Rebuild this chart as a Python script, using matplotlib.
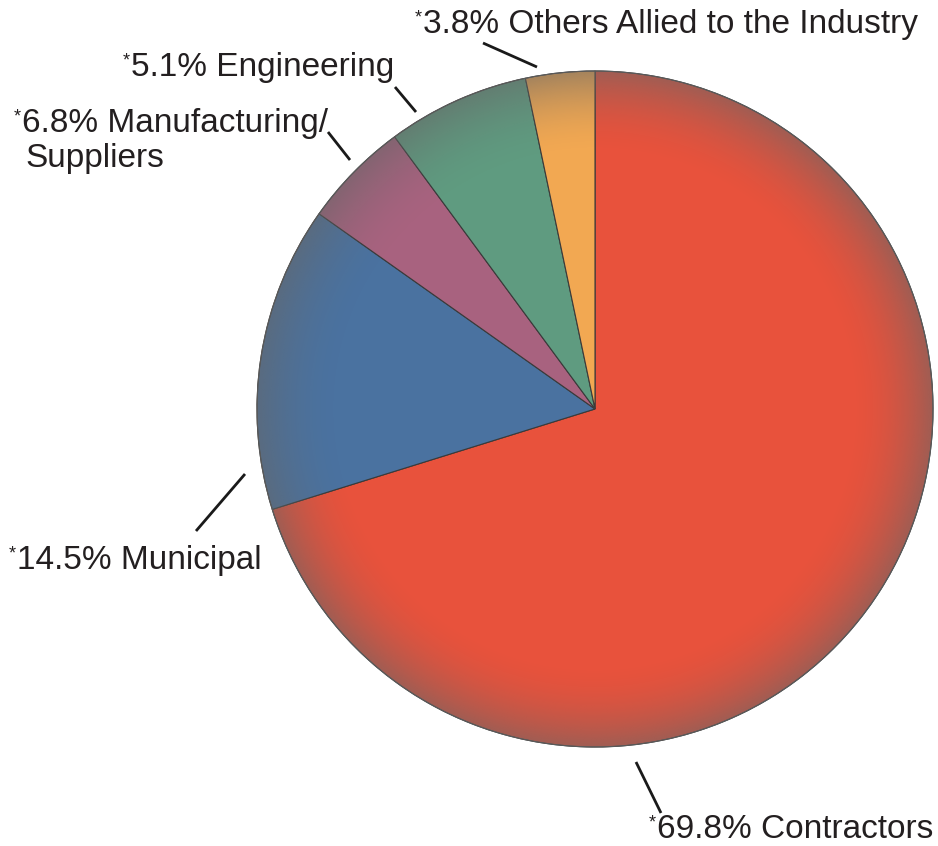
import numpy as np
import matplotlib
matplotlib.use("Agg")
import matplotlib.pyplot as plt
from matplotlib.patches import Circle

# ---- data (clockwise from 12 o'clock) ----
categories = ["Contractors", "Municipal", "Manufacturing/Suppliers", "Engineering",
              "Others Allied to the Industry"]
slice_sizes = [70.2, 14.6, 5.1, 6.8, 3.3]          # angular share as drawn
label_texts = ["69.8% Contractors", "14.5% Municipal", "6.8% Manufacturing/\nSuppliers",
               "5.1% Engineering", "3.8% Others Allied to the Industry"]
colors = ["#E8523C", "#4A72A0", "#A8627F", "#5F9B80", "#F2A852"]

W, H = 938, 846
fig = plt.figure(figsize=(W / 100, H / 100), dpi=100)
ax = fig.add_axes([0, 0, 1, 1])

cx, cy, R = 595, 409, 338

wedges, _ = ax.pie(slice_sizes, colors=colors, startangle=-90, counterclock=True,
                   center=(cx, cy), radius=R,
                   wedgeprops=dict(edgecolor="#3a3a3a", linewidth=0.8))

# rim shading (radial vignette)
n = 600
yy, xx = np.mgrid[-1:1:n * 1j, -1:1:n * 1j]
rr = np.sqrt(xx ** 2 + yy ** 2)
t = np.clip((rr - 0.76) / 0.24, 0, 1)
alpha = 0.55 * t ** 1.8
img = np.zeros((n, n, 4))
img[..., 0] = 0.40
img[..., 1] = 0.40
img[..., 2] = 0.40
img[..., 3] = alpha
clip = Circle((cx, cy), R, transform=ax.transData, facecolor="none", edgecolor="none")
ax.add_patch(clip)
im = ax.imshow(img, extent=(cx - R, cx + R, cy + R, cy - R), interpolation="bilinear",
               zorder=3)
im.set_clip_path(clip)
ax.add_patch(Circle((cx, cy), R, facecolor="none", edgecolor="#5a5a5a", linewidth=0.8,
                    zorder=4))

# ---- labels ----
font = "Liberation Sans"
tcol = "#231F20"
fs = 24

# (x of first digit, baseline y, leader line endpoints)
label_layout = [
    (657, 838, ((636, 762), (661, 813))),   # Contractors
    (17, 569, ((196, 531), (245, 474))),    # Municipal
    (22, 132, ((328, 132), (350, 160))),    # Manufacturing
    (131, 76, ((395, 87), (416, 112))),     # Engineering
    (423, 33, ((483, 43), (537, 67))),      # Others
]

for txt, (x, yb, ((x1, y1), (x2, y2))) in zip(label_texts, label_layout):
    lines = txt.split("\n")
    ax.text(x, yb, lines[0], fontsize=fs, family=font, color=tcol,
            ha="left", va="baseline", zorder=5)
    ax.text(x - 1.5, yb - 11, "*", fontsize=13, family=font, color=tcol,
            ha="right", va="baseline", zorder=5)
    if len(lines) > 1:
        ax.text(x + 3, yb + 35, lines[1], fontsize=fs, family=font, color=tcol,
                ha="left", va="baseline", zorder=5)
    ax.plot([x1, x2], [y1, y2], color="#1a1a1a", linewidth=2.0, solid_capstyle="butt",
            zorder=5)

ax.set_xlim(0, W)
ax.set_ylim(H, 0)
ax.set_aspect("equal")
ax.axis("off")

fig.savefig("out.png", dpi=100, facecolor="white")
